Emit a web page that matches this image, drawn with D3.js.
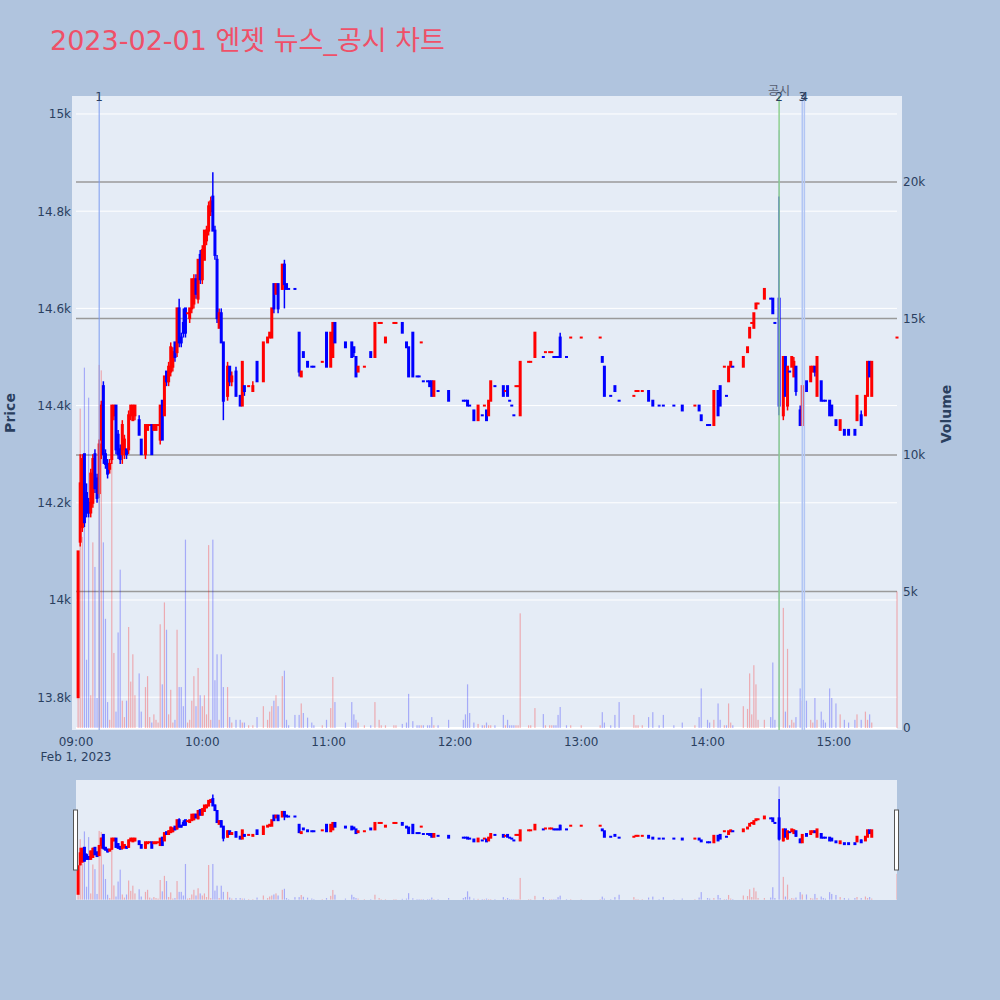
<!DOCTYPE html>
<html>
<head>
<meta charset="utf-8">
<script src="https://cdn.jsdelivr.net/npm/d3@7"></script>
<style>
  body { margin: 0; background: #B0C4DE; }
  text { font-family: 'DejaVu Sans', 'Noto Sans CJK KR', sans-serif; }
</style>
</head>
<body>
<div id="chart"></div>
<script>
// ── Data: 1-minute candles, 2023-02-01 ──
const times = [
  "09:01","09:02","09:03","09:04","09:05","09:06","09:07","09:08","09:09","09:10",
  "09:11","09:12","09:13","09:14","09:15","09:16","09:17","09:18","09:19","09:20",
  "09:21","09:22","09:23","09:24","09:25","09:26","09:27","09:28","09:30","09:31",
  "09:33","09:34","09:35","09:36","09:37","09:38","09:39","09:40","09:41","09:42",
  "09:43","09:44","09:45","09:46","09:47","09:48","09:49","09:50","09:51","09:52",
  "09:53","09:54","09:55","09:56","09:57","09:58","09:59","10:00","10:01","10:02",
  "10:03","10:04","10:05","10:06","10:07","10:08","10:09","10:10","10:12","10:13",
  "10:14","10:16","10:18","10:19","10:20","10:22","10:24","10:26","10:29","10:31",
  "10:32","10:33","10:34","10:35","10:36","10:38","10:39","10:40","10:41","10:44",
  "10:46","10:47","10:48","10:50","10:52","10:53","10:57","10:59","11:01","11:02",
  "11:03","11:08","11:11","11:12","11:13","11:14","11:17","11:20","11:22","11:24",
  "11:25","11:27","11:31","11:32","11:35","11:37","11:38","11:40","11:42","11:43",
  "11:44","11:45","11:47","11:48","11:49","11:50","11:52","11:57","12:04","12:05",
  "12:06","12:07","12:09","12:11","12:13","12:14","12:15","12:16","12:17","12:19",
  "12:23","12:24","12:25","12:26","12:27","12:28","12:29","12:30","12:31","12:35",
  "12:36","12:38","12:42","12:43","12:45","12:46","12:47","12:48","12:49","12:50",
  "12:53","12:55","13:00","13:09","13:10","13:11","13:14","13:16","13:18","13:25",
  "13:26","13:27","13:29","13:32","13:34","13:37","13:39","13:44","13:48","13:54",
  "13:56","13:57","14:00","14:01","14:03","14:05","14:06","14:08","14:09","14:10",
  "14:11","14:12","14:17","14:19","14:20","14:21","14:22","14:23","14:24","14:27",
  "14:30","14:31","14:32","14:34","14:36","14:37","14:38","14:39","14:40","14:41",
  "14:42","14:44","14:45","14:47","14:49","14:50","14:51","14:52","14:54","14:55",
  "14:56","14:58","14:59","15:01","15:03","15:05","15:07","15:10","15:11","15:13",
  "15:15","15:16","15:17","15:18","15:30"
];

const opens = [
  13800,14120,14150,14300,14220,14200,14180,14200,14300,14250,
  14220,14330,14440,14300,14280,14270,14290,14380,14400,14340,
  14310,14300,14310,14310,14310,14380,14370,14380,14370,14330,
  14300,14350,14360,14360,14350,14350,14360,14330,14410,14380,
  14470,14450,14470,14480,14530,14510,14600,14540,14570,14600,
  14590,14580,14600,14610,14660,14620,14710,14660,14700,14740,
  14760,14800,14830,14760,14700,14560,14590,14530,14420,14480,
  14450,14470,14420,14400,14440,14440,14430,14490,14450,14530,
  14540,14540,14650,14630,14650,14640,14690,14650,14640,14640,
  14550,14460,14510,14490,14480,14480,14490,14550,14480,14500,
  14570,14530,14530,14520,14500,14470,14480,14510,14500,14570,
  14570,14530,14570,14570,14570,14530,14520,14550,14460,14460,
  14530,14450,14450,14450,14450,14420,14430,14430,14410,14410,
  14410,14400,14390,14370,14380,14400,14390,14380,14410,14440,
  14440,14430,14440,14410,14400,14380,14440,14440,14380,14490,
  14490,14500,14500,14510,14510,14510,14500,14500,14500,14540,
  14500,14540,14540,14540,14500,14480,14420,14440,14410,14420,
  14430,14430,14430,14430,14410,14400,14400,14400,14400,14400,
  14400,14380,14360,14360,14360,14430,14440,14480,14420,14450,
  14480,14480,14480,14510,14540,14570,14560,14600,14610,14620,
  14620,14620,14570,14620,14380,14500,14400,14470,14480,14460,
  14480,14390,14360,14450,14450,14470,14480,14420,14450,14410,
  14410,14410,14400,14370,14350,14350,14350,14350,14370,14380,
  14380,14420,14490,14420,14540
];

const highs = [
  14100,14300,14300,14300,14240,14210,14270,14300,14310,14260,
  14330,14410,14450,14310,14290,14290,14400,14400,14400,14350,
  14320,14370,14340,14310,14390,14400,14400,14400,14380,14330,
  14360,14360,14360,14360,14360,14360,14360,14400,14410,14460,
  14470,14490,14530,14520,14530,14600,14620,14550,14600,14600,
  14590,14600,14660,14670,14670,14700,14720,14730,14760,14770,
  14820,14830,14880,14770,14710,14600,14600,14530,14490,14480,
  14470,14480,14420,14490,14440,14440,14450,14490,14530,14540,
  14550,14600,14650,14650,14650,14690,14700,14650,14640,14640,
  14550,14470,14510,14490,14480,14480,14490,14550,14550,14570,
  14570,14530,14530,14520,14500,14480,14480,14510,14570,14570,
  14570,14540,14570,14570,14570,14530,14520,14550,14460,14460,
  14530,14450,14450,14450,14450,14450,14430,14430,14410,14410,
  14410,14400,14390,14400,14380,14400,14390,14410,14450,14440,
  14440,14430,14440,14410,14400,14380,14440,14440,14490,14490,
  14490,14550,14500,14510,14510,14510,14500,14500,14500,14550,
  14500,14540,14540,14540,14500,14480,14420,14440,14410,14420,
  14430,14430,14430,14430,14410,14400,14400,14400,14400,14400,
  14400,14380,14360,14360,14430,14430,14440,14480,14420,14480,
  14490,14480,14500,14520,14560,14570,14590,14610,14610,14640,
  14620,14620,14570,14830,14500,14500,14480,14470,14500,14500,
  14480,14400,14440,14450,14480,14480,14480,14500,14450,14410,
  14410,14410,14400,14370,14370,14350,14350,14350,14420,14390,
  14420,14490,14490,14490,14540
];

const lows = [
  13800,14110,14140,14150,14170,14170,14170,14190,14220,14200,
  14210,14290,14280,14270,14250,14260,14280,14370,14300,14290,
  14280,14280,14290,14290,14300,14370,14370,14370,14340,14300,
  14290,14350,14360,14300,14350,14350,14360,14320,14330,14380,
  14440,14440,14460,14470,14490,14500,14520,14520,14540,14540,
  14590,14570,14590,14600,14620,14610,14650,14650,14700,14730,
  14750,14790,14760,14700,14570,14560,14530,14370,14410,14440,
  14440,14420,14400,14400,14420,14440,14430,14450,14450,14530,
  14540,14540,14590,14630,14590,14640,14600,14640,14640,14640,
  14460,14460,14500,14480,14480,14480,14490,14480,14480,14500,
  14530,14520,14500,14500,14460,14470,14480,14500,14500,14570,
  14570,14530,14570,14570,14550,14520,14460,14460,14460,14460,
  14530,14450,14450,14440,14420,14420,14430,14410,14410,14410,
  14400,14400,14370,14370,14380,14400,14370,14380,14410,14440,
  14420,14430,14420,14410,14400,14380,14440,14440,14380,14490,
  14490,14500,14500,14510,14510,14510,14500,14500,14500,14500,
  14500,14540,14540,14540,14490,14420,14420,14430,14410,14420,
  14430,14430,14430,14410,14400,14400,14400,14400,14390,14400,
  14390,14370,14360,14360,14360,14380,14400,14480,14420,14450,
  14480,14480,14480,14510,14540,14570,14560,14600,14610,14620,
  14620,14590,14570,14380,14370,14420,14390,14470,14480,14460,
  14420,14360,14360,14430,14450,14470,14460,14420,14410,14410,
  14410,14380,14380,14360,14350,14340,14340,14340,14370,14360,
  14380,14420,14460,14420,14540
];

const closes = [
  14100,14240,14290,14160,14180,14180,14260,14290,14230,14210,
  14320,14400,14300,14280,14260,14280,14400,14400,14310,14300,
  14290,14360,14330,14300,14380,14400,14400,14400,14340,14300,
  14360,14360,14360,14300,14360,14360,14360,14400,14330,14460,
  14450,14480,14520,14510,14500,14600,14530,14530,14550,14550,
  14590,14600,14660,14660,14630,14700,14660,14720,14760,14760,
  14810,14820,14760,14710,14580,14590,14530,14410,14480,14450,
  14460,14420,14400,14490,14430,14440,14440,14450,14530,14540,
  14550,14600,14600,14650,14600,14690,14650,14640,14640,14640,
  14470,14470,14500,14480,14480,14480,14490,14480,14550,14570,
  14530,14520,14500,14510,14460,14480,14480,14500,14570,14570,
  14570,14540,14570,14570,14550,14520,14460,14460,14460,14460,
  14530,14450,14450,14440,14420,14450,14430,14410,14410,14410,
  14400,14400,14370,14400,14380,14400,14370,14410,14450,14440,
  14420,14430,14420,14410,14400,14380,14440,14440,14490,14490,
  14490,14550,14500,14510,14510,14510,14500,14500,14500,14500,
  14500,14540,14540,14540,14490,14420,14420,14430,14410,14420,
  14430,14430,14430,14410,14400,14400,14400,14400,14390,14400,
  14390,14370,14360,14360,14430,14380,14400,14480,14420,14480,
  14490,14480,14500,14520,14560,14570,14590,14610,14610,14640,
  14620,14590,14570,14400,14500,14420,14480,14470,14500,14490,
  14430,14360,14440,14430,14480,14480,14470,14500,14410,14410,
  14410,14380,14380,14360,14370,14340,14340,14340,14420,14360,
  14420,14490,14460,14490,14540
];

const volumes = [
  3200,11700,7000,13200,2500,12100,1200,6800,5900,1100,
  13300,13100,6800,4000,950,300,11800,2750,600,3500,
  5800,1000,400,1000,3700,1700,2700,1200,2000,600,
  1500,1900,400,200,500,300,200,3800,1600,4600,
  3600,500,1400,200,300,3600,1500,1500,800,6900,
  200,300,1000,1900,800,2200,1200,800,1200,500,
  6700,300,6900,1750,2700,300,2700,1500,1500,400,
  200,300,300,200,200,100,100,400,800,300,
  600,800,1000,1200,800,1900,2100,300,100,480,
  480,900,550,380,200,100,100,300,730,1870,
  950,200,950,500,300,200,100,100,950,300,
  100,100,100,100,150,200,1250,250,100,100,
  100,100,100,100,400,100,100,300,300,500,
  1600,550,200,150,100,100,200,100,100,100,
  480,100,300,100,100,100,100,100,4200,100,
  100,730,510,100,100,100,100,100,480,770,
  100,100,100,100,580,200,100,480,950,480,
  100,100,100,400,580,100,480,100,200,100,
  400,1450,300,200,300,900,300,100,100,900,
  200,100,800,700,2000,500,2300,1600,300,300,
  400,2400,300,21900,4400,600,2900,100,300,200,
  400,1450,1000,1000,300,200,1100,300,600,300,
  200,1450,1100,900,500,300,200,300,500,300,
  600,300,500,200,5000
];

// news / disclosure markers
const newsTimes = ["09:11", "14:34", "14:45", "14:46"];
const newsLabels = ["1", "2", "3", "4"];
const newsColors = ["#7b9cf0", "#8fd18f", "#b2c6f4", "#b2c6f4"];

const priceTicks = [13800, 14000, 14200, 14400, 14600, 14800, 15000];
const volumeTicks = [0, 5000, 10000, 15000, 20000];
const hourTicks = ["09:00", "10:00", "11:00", "12:00", "13:00", "14:00", "15:00"];

const UP = '#ff0000';
const DOWN = '#0000ff';
const TICK_COLOR = '#2a3f5f';

// ── Build bars ──
const parseT = d3.timeParse('%Y-%m-%d %H:%M');
const day = s => parseT('2023-02-01 ' + s);

const bars = times.map((t, i) => ({
    t: day(t), o: opens[i], h: highs[i], l: lows[i], c: closes[i], v: volumes[i],
}));

// direction: close vs open, ties resolved against previous close
let prevC = null, prevUp = true;
bars.forEach(b => {
    let up;
    if (b.c > b.o) up = true;
    else if (b.c < b.o) up = false;
    else if (prevC !== null && b.c > prevC) up = true;
    else if (prevC !== null && b.c < prevC) up = false;
    else up = prevUp;
    b.up = up;
    prevC = b.c; prevUp = up;
});

// ── Scales ──
const x = d3.scaleTime().domain([day('09:00'), day('15:30')]).range([76, 897]);
const yP = d3.scaleLinear().domain([13732.5, 15037]).range([730, 96]);
const yV = d3.scaleLinear().domain([-73, 23150]).range([730, 96]);
const yPs = d3.scaleLinear().domain(yP.domain()).range([900, 780]);
const yVs = d3.scaleLinear().domain(yV.domain()).range([900, 780]);

const svg = d3.select('#chart').append('svg')
    .attr('width', 1000).attr('height', 1000);

svg.append('rect').attr('width', 1000).attr('height', 1000).attr('fill', '#B0C4DE');

// title
svg.append('text')
    .attr('x', 50).attr('y', 50)
    .attr('font-size', '27px')
    .attr('fill', '#ef5068')
    .text('2023-02-01 엔젯 뉴스_공시 차트');

// ── Main plot ──
svg.append('clipPath').attr('id', 'clip-main')
    .append('rect').attr('x', 72).attr('y', 96).attr('width', 830).attr('height', 634);

svg.append('rect')
    .attr('x', 72).attr('y', 96).attr('width', 830).attr('height', 634)
    .attr('fill', '#E5ECF6');

const main = svg.append('g').attr('clip-path', 'url(#clip-main)');

// price grid (white)
main.append('g').selectAll('line')
    .data(priceTicks)
    .join('line')
    .attr('x1', 76).attr('x2', 897)
    .attr('y1', d => yP(d)).attr('y2', d => yP(d))
    .attr('stroke', '#ffffff').attr('stroke-width', 1);

// volume grid (grey)
main.append('g').selectAll('line')
    .data(volumeTicks.filter(d => d > 0))
    .join('line')
    .attr('x1', 76).attr('x2', 897)
    .attr('y1', d => yV(d)).attr('y2', d => yV(d))
    .attr('stroke', '#9a9a9a').attr('stroke-width', 1.5);

main.append('line')
    .attr('x1', 76).attr('x2', 897)
    .attr('y1', yV(0)).attr('y2', yV(0))
    .attr('stroke', '#ffffff').attr('stroke-width', 2);

function drawVolume(g, ys, w) {
    g.append('g').selectAll('rect')
        .data(bars)
        .join('rect')
        .attr('x', d => x(d.t) - w / 2)
        .attr('width', w)
        .attr('y', d => ys(d.v))
        .attr('height', d => ys(0) - ys(d.v))
        .attr('fill', d => d.up ? UP : DOWN)
        .attr('fill-opacity', 0.28);
}

function drawCandles(g, ys) {
    g.append('g').selectAll('line')
        .data(bars)
        .join('line')
        .attr('x1', d => x(d.t)).attr('x2', d => x(d.t))
        .attr('y1', d => ys(d.h)).attr('y2', d => ys(d.l))
        .attr('stroke', d => d.up ? UP : DOWN)
        .attr('stroke-width', 1.5);
    g.append('g').selectAll('rect')
        .data(bars)
        .join('rect')
        .attr('x', d => x(d.t) - 1.5)
        .attr('width', 3)
        .attr('y', d => Math.min(ys(d.o), ys(d.c)) - 1)
        .attr('height', d => Math.abs(ys(d.o) - ys(d.c)) + 2)
        .attr('fill', d => d.up ? UP : DOWN);
}

drawVolume(main, yV, 1.2);
drawCandles(main, yP);

// news markers
newsTimes.forEach((t, i) => {
    const xx = x(day(t));
    main.append('line')
        .attr('x1', xx).attr('x2', xx)
        .attr('y1', 96).attr('y2', 730)
        .attr('stroke', newsColors[i])
        .attr('stroke-width', i === 0 ? 1 : 1.5);
    svg.append('text')
        .attr('x', xx).attr('y', 101)
        .attr('text-anchor', 'middle')
        .attr('font-size', '12px')
        .attr('fill', TICK_COLOR)
        .text(newsLabels[i]);
});

svg.append('text')
    .attr('x', x(day('14:34'))).attr('y', 95)
    .attr('text-anchor', 'middle')
    .attr('font-size', '12px')
    .attr('fill', '#555c6e')
    .text('공시');

// ── Axes ──
const yAxisL = d3.axisLeft(yP).tickValues(priceTicks).tickFormat(d3.format('~s')).tickSize(0).tickPadding(0);
svg.append('g').attr('transform', 'translate(71,0)').call(yAxisL)
    .call(g => g.select('.domain').remove())
    .selectAll('text')
    .attr('font-family', "'DejaVu Sans', sans-serif")
    .attr('font-size', '12px')
    .attr('fill', TICK_COLOR);

const yAxisR = d3.axisRight(yV).tickValues(volumeTicks).tickFormat(d3.format('~s')).tickSize(0).tickPadding(0);
svg.append('g').attr('transform', 'translate(903,0)').call(yAxisR)
    .call(g => g.select('.domain').remove())
    .selectAll('text')
    .attr('font-family', "'DejaVu Sans', sans-serif")
    .attr('font-size', '12px')
    .attr('fill', TICK_COLOR);

svg.append('g').selectAll('text')
    .data(hourTicks)
    .join('text')
    .attr('x', d => x(day(d)))
    .attr('y', 746)
    .attr('text-anchor', 'middle')
    .attr('font-size', '12px')
    .attr('fill', TICK_COLOR)
    .text(d => d);

svg.append('text')
    .attr('x', x(day('09:00'))).attr('y', 761)
    .attr('text-anchor', 'middle')
    .attr('font-size', '12px')
    .attr('fill', TICK_COLOR)
    .text('Feb 1, 2023');

svg.append('text')
    .attr('transform', 'translate(15,413) rotate(-90)')
    .attr('text-anchor', 'middle')
    .attr('font-size', '14px')
    .attr('font-weight', 'bold')
    .attr('fill', TICK_COLOR)
    .text('Price');

svg.append('text')
    .attr('transform', 'translate(951,414) rotate(-90)')
    .attr('text-anchor', 'middle')
    .attr('font-size', '14px')
    .attr('font-weight', 'bold')
    .attr('fill', TICK_COLOR)
    .text('Volume');

// ── Range slider ──
svg.append('clipPath').attr('id', 'clip-slider')
    .append('rect').attr('x', 76).attr('y', 780).attr('width', 821).attr('height', 120);

svg.append('rect')
    .attr('x', 76).attr('y', 780).attr('width', 821).attr('height', 120)
    .attr('fill', '#E5ECF6');

const slider = svg.append('g').attr('clip-path', 'url(#clip-slider)');
drawVolume(slider, yVs, 1.2);
drawCandles(slider, yPs);

[76, 897].forEach(hx => {
    svg.append('rect')
        .attr('x', hx - 2.5).attr('y', 810)
        .attr('width', 4).attr('height', 60)
        .attr('fill', '#ffffff')
        .attr('stroke', '#555555')
        .attr('stroke-width', 1);
});
</script>
</body>
</html>
